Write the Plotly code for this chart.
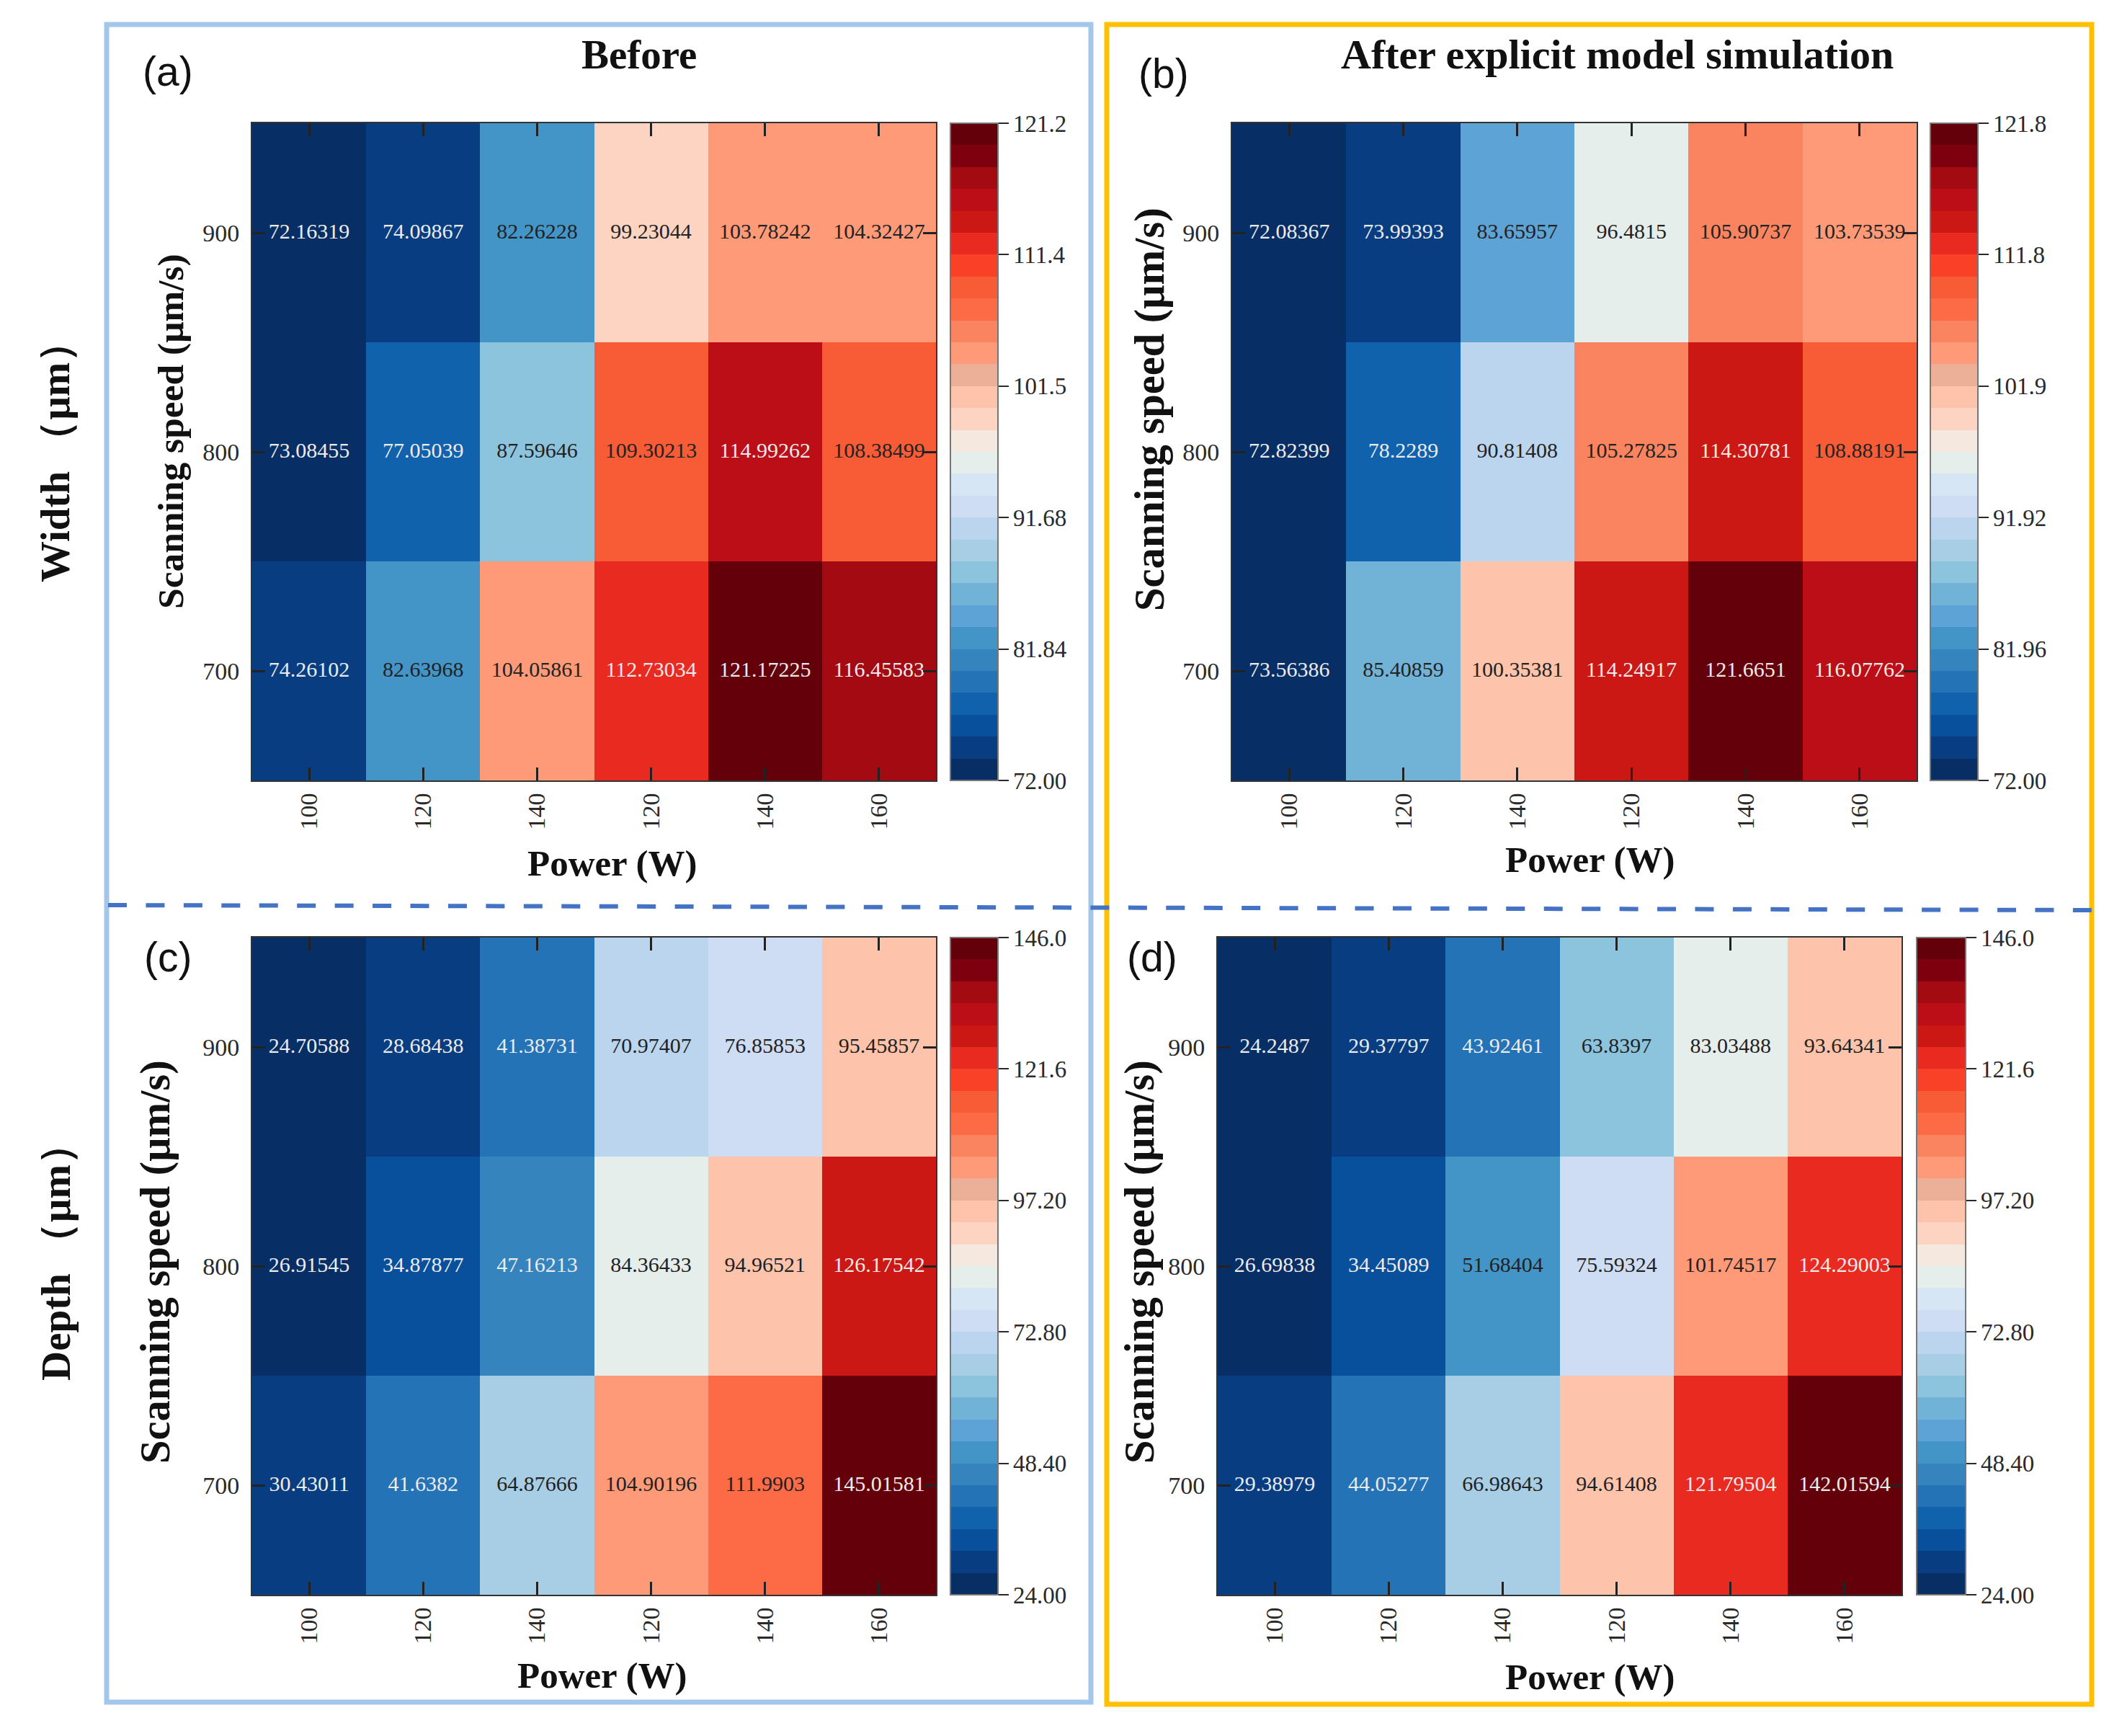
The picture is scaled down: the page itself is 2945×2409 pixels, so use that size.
import plotly.graph_objects as go

W, H = 2945, 2409

power_labels = ["100", "120", "140", "120", "140", "160"]
power_pos = [0, 1, 2, 3, 4, 5]
speeds = [700, 800, 900]

# rows: 700, 800, 900
width_before = [
    [74.26102, 82.63968, 104.05861, 112.73034, 121.17225, 116.45583],
    [73.08455, 77.05039, 87.59646, 109.30213, 114.99262, 108.38499],
    [72.16319, 74.09867, 82.26228, 99.23044, 103.78242, 104.32427],
]
width_after = [
    [73.56386, 85.40859, 100.35381, 114.24917, 121.6651, 116.07762],
    [72.82399, 78.2289, 90.81408, 105.27825, 114.30781, 108.88191],
    [72.08367, 73.99393, 83.65957, 96.4815, 105.90737, 103.73539],
]
depth_before = [
    [30.43011, 41.6382, 64.87666, 104.90196, 111.9903, 145.01581],
    [26.91545, 34.87877, 47.16213, 84.36433, 94.96521, 126.17542],
    [24.70588, 28.68438, 41.38731, 70.97407, 76.85853, 95.45857],
]
depth_after = [
    [29.38979, 44.05277, 66.98643, 94.61408, 121.79504, 142.01594],
    [26.69838, 34.45089, 51.68404, 75.59324, 101.74517, 124.29003],
    [24.2487, 29.37797, 43.92461, 63.8397, 83.03488, 93.64341],
]

ticks_a = [72.0, 81.84, 91.68, 101.52, 111.36, 121.2]
labels_a = ["72.00", "81.84", "91.68", "101.5", "111.4", "121.2"]
ticks_b = [72.0, 81.96, 91.92, 101.88, 111.84, 121.8]
labels_b = ["72.00", "81.96", "91.92", "101.9", "111.8", "121.8"]
ticks_d = [24.0, 48.4, 72.8, 97.2, 121.6, 146.0]
labels_d = ["24.00", "48.40", "72.80", "97.20", "121.6", "146.0"]

band_colors = [
    "#082e66", "#083d82", "#08509b", "#1162ac", "#2373b6", "#3584be",
    "#4394c7", "#5da3d6", "#71b3d7", "#8cc4de", "#a7cee5", "#bcd5ee",
    "#cfddf4", "#d6e6f4", "#e6eeec", "#f5e8df", "#fdd3c1", "#fdc3ab",
    "#ecaf97", "#fe9a78", "#fb8460", "#fc6a46", "#f75c37", "#f84126",
    "#e82a20", "#cc1815", "#bc0e17", "#a30a12", "#7e000f", "#64000a",
]
colorscale = []
for i, c in enumerate(band_colors):
    colorscale.append([i / 30, c])
    colorscale.append([(i + 1) / 30, c])

SERIF = "Liberation Serif"
SANS = "Liberation Sans"
DARK = "#2a2a2a"


def fx(px):
    return px / W


def fy(px):
    return 1 - px / H


panels = [
    dict(z=width_before, ticks=ticks_a, labels=labels_a, box=(350, 1299, 171, 1083), cb=(1319, 1385)),
    dict(z=width_after, ticks=ticks_b, labels=labels_b, box=(1710, 2660, 171, 1083), cb=(2679, 2745)),
    dict(z=depth_before, ticks=ticks_d, labels=labels_d, box=(350, 1299, 1301, 2213), cb=(1319, 1385)),
    dict(z=depth_after, ticks=ticks_d, labels=labels_d, box=(1690, 2639, 1301, 2213), cb=(2660, 2728)),
]

fig = go.Figure()
layout_axes = {}
for n, p in enumerate(panels, start=1):
    suffix = "" if n == 1 else str(n)
    x0, x1, y0, y1 = p["box"]
    zmin, zmax = p["ticks"][0], p["ticks"][-1]
    fig.add_trace(go.Heatmap(
        x=power_pos, y=speeds, z=p["z"], zmin=zmin, zmax=zmax, zsmooth=False,
        colorscale=colorscale, xaxis="x" + suffix, yaxis="y" + suffix, hoverinfo="skip",
        colorbar=dict(
            x=fx(p["cb"][0]), xanchor="left", xpad=0, ypad=0,
            y=fy(y1), yanchor="bottom", len=(y1 - y0) / H, lenmode="fraction",
            thickness=p["cb"][1] - p["cb"][0], thicknessmode="pixels",
            tickmode="array", tickvals=p["ticks"], ticktext=p["labels"],
            ticks="outside", ticklen=14, tickwidth=2, tickcolor=DARK,
            outlinecolor="#777777", outlinewidth=2, borderwidth=0,
            tickfont=dict(family=SERIF, size=33, color=DARK),
        ),
    ))
    xs, ys, texts, colors = [], [], [], []
    for r, row in enumerate(p["z"]):
        for c, v in enumerate(row):
            xs.append(power_pos[c])
            ys.append(speeds[r])
            texts.append(str(v))
            t = (v - zmin) / (zmax - zmin)
            colors.append("#ebebeb" if t < 0.2 or t > 0.77 else "#222222")
    fig.add_trace(go.Scatter(
        x=xs, y=ys, text=texts, mode="text", textposition="middle center",
        textfont=dict(family=SERIF, size=30, color=colors),
        xaxis="x" + suffix, yaxis="y" + suffix, hoverinfo="skip", showlegend=False,
    ))
    common = dict(
        showline=True, linecolor="#333333", linewidth=2, mirror="allticks",
        ticks="inside", ticklen=18, tickwidth=2.5, tickcolor="#222222",
        showgrid=False, zeroline=False, tickmode="array",
        tickfont=dict(family=SERIF, size=34, color=DARK),
    )
    layout_axes["xaxis" + suffix] = dict(
        domain=[fx(x0), fx(x1)], anchor="y" + suffix, range=[-0.5, 5.5],
        tickvals=power_pos, ticktext=power_labels, tickangle=-90,
        ticklabelstandoff=2, **common,
    )
    layout_axes["yaxis" + suffix] = dict(
        domain=[fy(y1), fy(y0)], anchor="x" + suffix, range=[650, 950],
        tickvals=speeds, ticktext=[str(s) for s in speeds],
        ticklabelstandoff=9, **common,
    )
fig.update_layout(**layout_axes)


def note(text, x, y, size, family=SERIF, bold=False, angle=0, color="#111111"):
    return dict(
        text=f"<b>{text}</b>" if bold else text, x=fx(x), y=fy(y), xref="paper", yref="paper",
        xanchor="center", yanchor="middle", showarrow=False, textangle=angle,
        font=dict(family=family, size=size, color=color),
    )


annotations = [
    note("Before", 887, 75, 57, bold=True),
    note("After explicit model simulation", 2244, 75, 58, bold=True),
    note("(a)", 233, 99, 57, SANS),
    note("(b)", 1615, 102, 57, SANS),
    note("(c)", 233, 1328, 57, SANS),
    note("(d)", 1599, 1328, 57, SANS),
    note("Power (W)", 850, 1198, 51, bold=True),
    note("Power (W)", 2207, 1193, 51, bold=True),
    note("Power (W)", 836, 2325, 51, bold=True),
    note("Power (W)", 2207, 2327, 51, bold=True),
    note("Scanning speed (μm/s)", 236, 599, 51.5, bold=True, angle=-90),
    note("Scanning speed (μm/s)", 1595, 568, 58.5, bold=True, angle=-90),
    note("Scanning speed (μm/s)", 216, 1751, 58.5, bold=True, angle=-90),
    note("Scanning speed (μm/s)", 1582, 1751, 58.5, bold=True, angle=-90),
    note("Width （μm）", 77, 627, 57, bold=True, angle=-90),
    note("Depth （μm）", 77, 1738, 57, bold=True, angle=-90),
]


def rect(x0, y0, x1, y1, color):
    return dict(type="rect", xref="paper", yref="paper", x0=fx(x0), x1=fx(x1), y0=fy(y0), y1=fy(y1),
                line=dict(color=color, width=7), fillcolor="rgba(0,0,0,0)", layer="below")


shapes = [
    rect(148, 34, 1514, 2362, "#a3c7ea"),
    rect(1536, 34, 2903, 2365, "#ffc000"),
    dict(type="line", xref="paper", yref="paper", x0=fx(150), x1=fx(2903), y0=fy(1256), y1=fy(1263),
         line=dict(color="#4472c4", width=6, dash="26px,26.44px")),
]

fig.update_layout(
    width=W, height=H, autosize=False, margin=dict(l=0, r=0, t=0, b=0, pad=0),
    paper_bgcolor="white", plot_bgcolor="white", showlegend=False,
    annotations=annotations, shapes=shapes,
)
fig.write_html("out.html", config={"displayModeBar": False}, post_script="document.body.style.margin='0';")
